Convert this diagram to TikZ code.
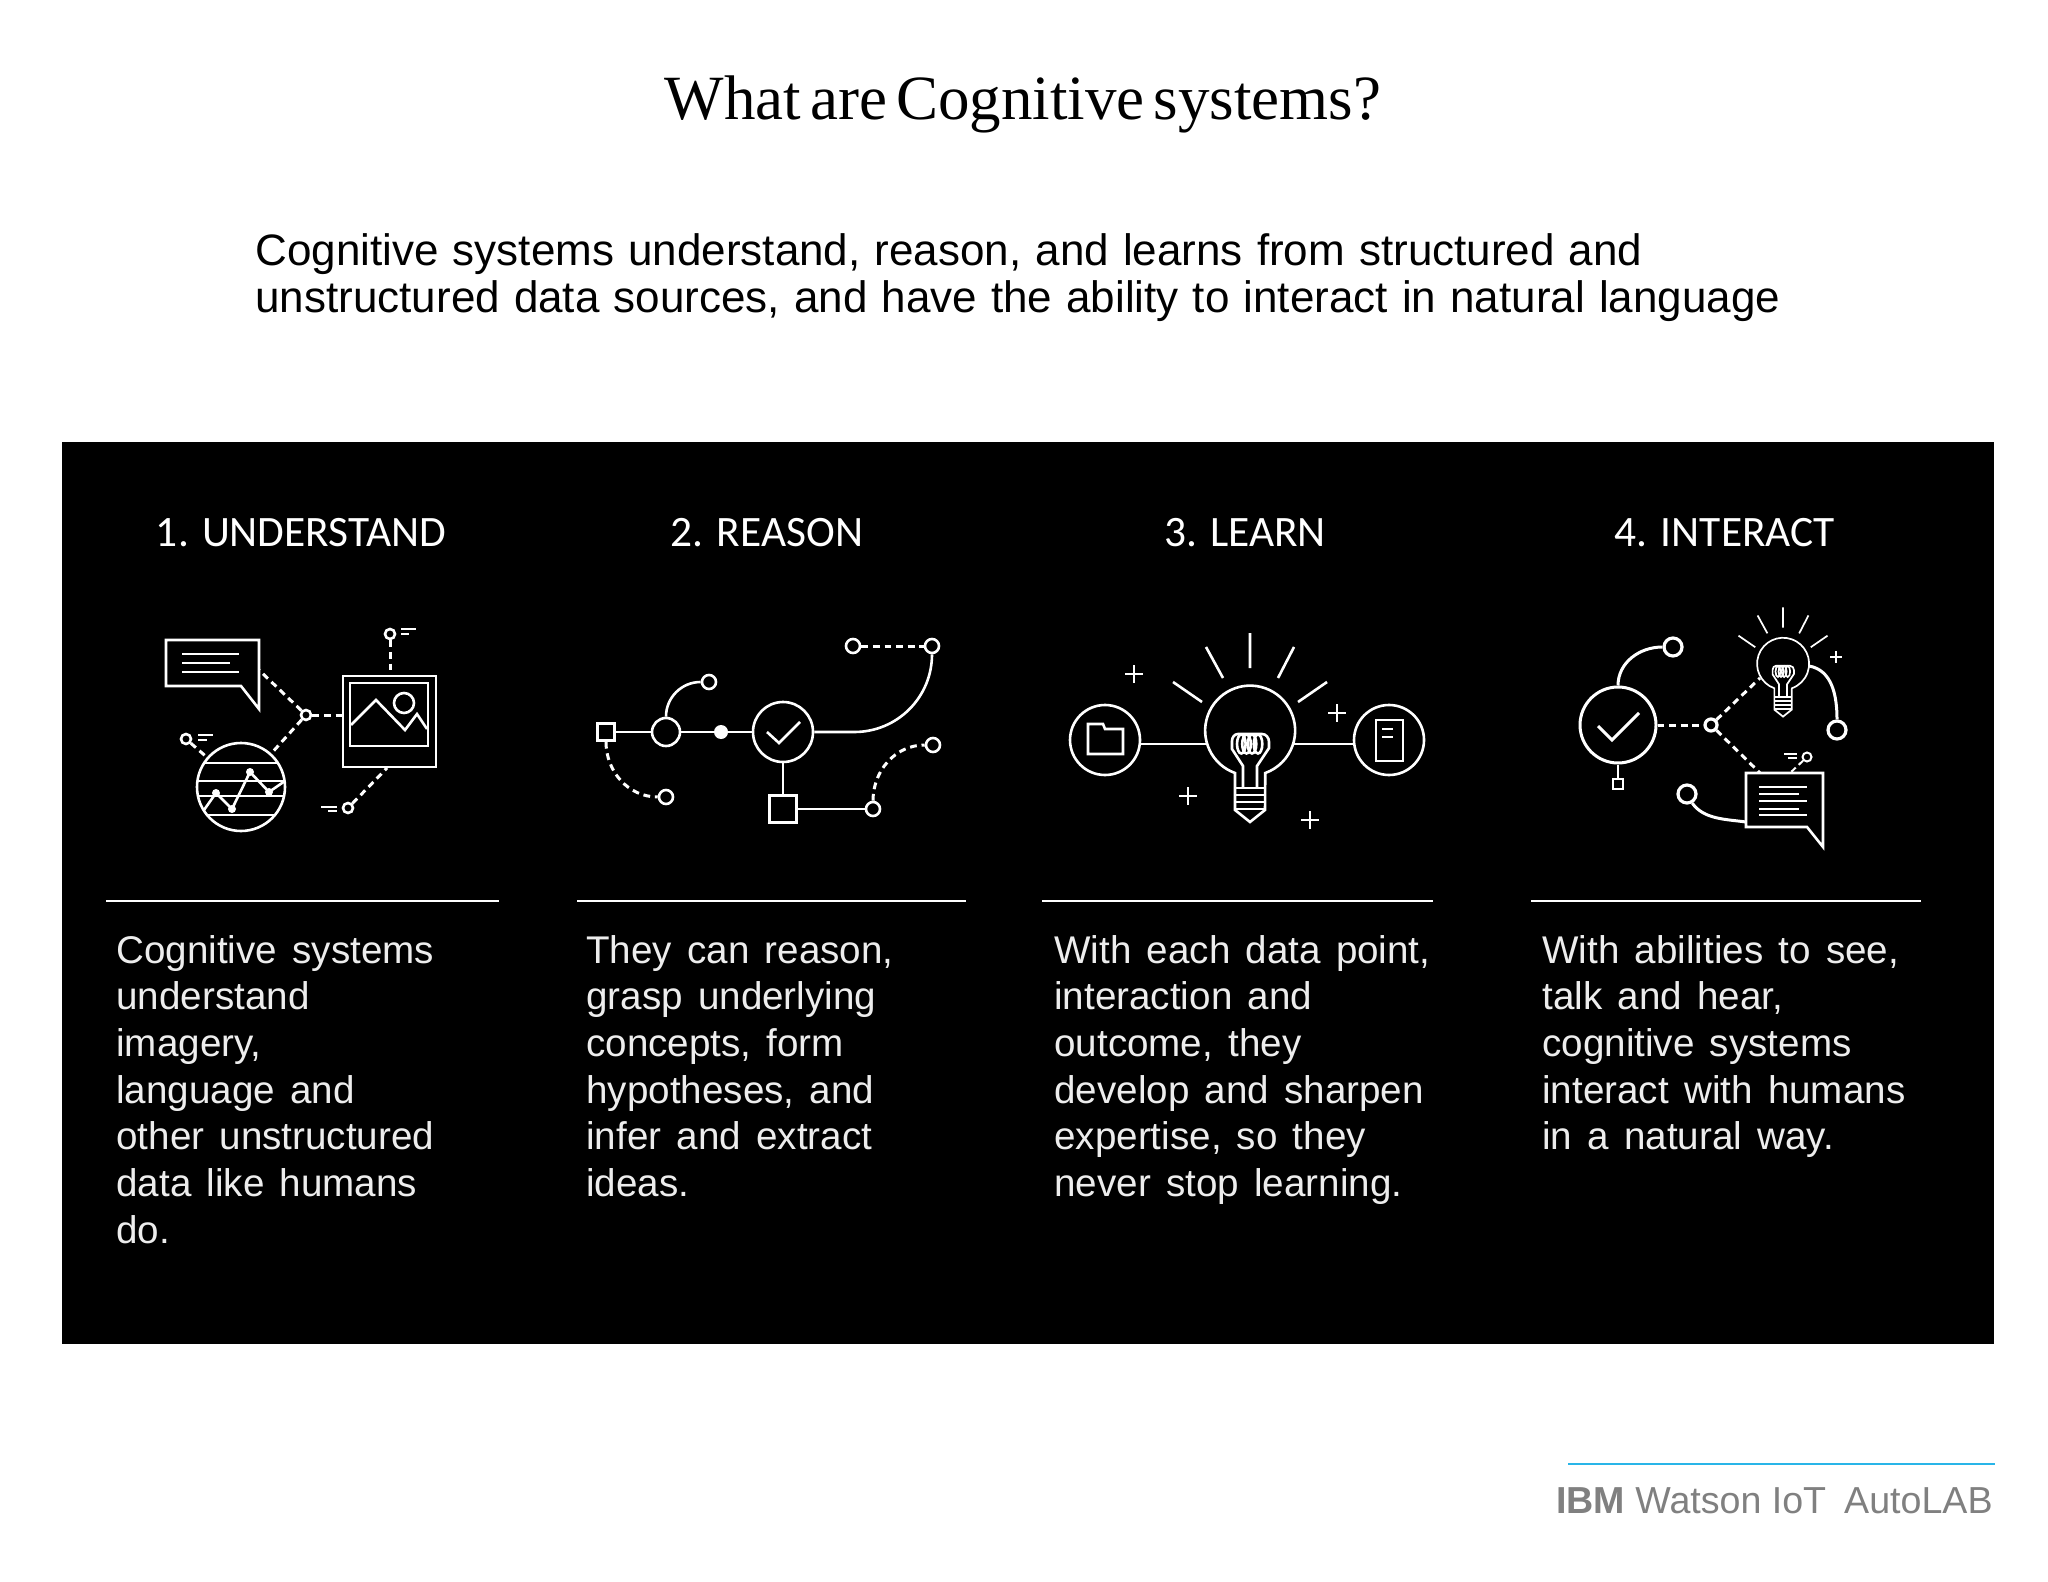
\documentclass[tikz,border=0pt]{standalone}
\usepackage{fontspec}
\setmainfont{Liberation Sans}
\newfontfamily\titlefont[WordSpace=0.57]{Liberation Serif}
\newfontfamily\headfont{Carlito}
\definecolor{footgray}{HTML}{808080}
\definecolor{footblue}{HTML}{29B5E8}
\definecolor{softwhite}{HTML}{EDEDED}
\protected\def\bodysel{\fontsize{19.3}{23.35}\selectfont\frenchspacing\spaceskip=7.6pt\relax}
\protected\def\subsel{\fontsize{22}{23.5}\selectfont\frenchspacing\spaceskip=7.05pt\relax}
\tikzset{
 icon/.style={draw=white,line width=1.3pt,line join=miter},
 thinicon/.style={draw=white,line width=.85pt},
 dashline/.style={icon,line width=1.5pt,dash pattern=on 3.4pt off 2.4pt},
 thindash/.style={thinicon,line width=1pt,dash pattern=on 3pt off 2pt},
 ring/.style={circle,icon,inner sep=0pt,minimum size=#1*1pt},
 dotnode/.style={circle,fill=white,inner sep=0pt,minimum size=#1*1pt},
 boxnode/.style={rectangle,icon,inner sep=0pt,minimum size=#1*.5pt},
 headtext/.style={text=white,anchor=base,inner sep=0pt,font=\headfont\fontsize{21.7}{24}\selectfont},
 bodytext/.style={text=softwhite,anchor=north west,inner sep=0pt,align=left,font=\bodysel},
 sep/.style={draw=white,line width=1.2pt},
}
\newcommand{\plusmark}[3]{\draw[icon,line width=#3] (#1-9,#2)--(#1+9,#2) (#1,#2-9)--(#1,#2+9);}
\newcommand{\bulbshape}{%
 \draw (-15,42) arc[start angle=109.65,end angle=430.35,radius=45]
   -- (15,79) -- (0,91) -- (-15,79) -- cycle;
 \draw (-15,57)--(15,57) (-15,64)--(15,64) (-15,71)--(15,71) (-15,78)--(15,78);
 \draw (-7,57) -- (-7,35) -- (-18,18) -- (-18,10) to[out=90,in=180] (-12,3) -- (12,3) to[out=0,in=90] (19,11) -- (19,17) -- (7,35) -- (7,57);
 \foreach \cx in {-8.7,-3.5,2,8} \draw (\cx,13) ellipse[x radius=4.3,y radius=9.5];
 \draw (0,-98)--(0,-63) (-44,-84)--(-27,-53) (44,-84)--(28,-53) (-77,-49)--(-48,-29) (77,-49)--(48,-29);
}
\begin{document}
\begin{tikzpicture}[x=.5pt,y=-.5pt]
\useasboundingbox (0,0) rectangle (2048,1582);
\fill[white] (0,0) rectangle (2048,1582);
\node[anchor=base,inner sep=0pt,font=\titlefont\fontsize{31.5}{34}\selectfont,text=black] (title) at (1023,120) {What are Cognitive systems?};
\node[anchor=north west,inner sep=0pt,align=left,font=\subsel,text=black] (subtitle) at (255,233) {\rule{0pt}{14pt}Cognitive systems understand, reason, and learns from structured and\\unstructured data sources, and have the ability to interact in natural language};
\fill[black] (62,442) rectangle (1994,1344);

\node[headtext] (h1) at (301,546) {1. UNDERSTAND};
\node[headtext] (h2) at (767,546) {2. REASON};
\node[headtext] (h3) at (1245,546) {3. LEARN};
\node[headtext] (h4) at (1725,546) {4. INTERACT};

\coordinate (s1a) at (106,900.7); \coordinate (s1b) at (499,900.7);
\coordinate (s2a) at (577,900.7); \coordinate (s2b) at (966,900.7);
\coordinate (s3a) at (1042,900.7); \coordinate (s3b) at (1433,900.7);
\coordinate (s4a) at (1531,900.7); \coordinate (s4b) at (1921,900.7);
\draw[sep] (s1a)--(s1b); \draw[sep] (s2a)--(s2b); \draw[sep] (s3a)--(s3b); \draw[sep] (s4a)--(s4b);

\node[bodytext] (b1) at (116,934.7) {\rule{0pt}{14pt}Cognitive systems\\understand\\imagery,\\language and\\other unstructured\\data like humans\\do.};
\node[bodytext] (b2) at (586,934.7) {\rule{0pt}{14pt}They can reason,\\grasp underlying\\concepts, form\\hypotheses, and\\infer and extract\\ideas.};
\node[bodytext] (b3) at (1054,934.7) {\rule{0pt}{14pt}With each data point,\\interaction and\\outcome, they\\develop and sharpen\\expertise, so they\\never stop learning.};
\node[bodytext] (b4) at (1542,934.7) {\rule{0pt}{14pt}With abilities to see,\\talk and hear,\\cognitive systems\\interact with humans\\in a natural way.};

% icon 1
\draw[icon] (166,640)--(259,640)--(259,709)--(241,686)--(166,686)--cycle;
\draw[icon,line width=1pt] (182,654)--(239,654) (182,663)--(230,663) (182,672)--(239,672);
\coordinate (bub1) at (259,670);
\node[ring=5] (hub1) at (306,715) {};
\node[rectangle,icon,inner sep=0pt,minimum width=46.5pt,minimum height=45.5pt] (img1) at (389.5,721.5) {};
\draw[icon] (350,683) rectangle (428,746);
\draw[icon] (351,725)--(376,700)--(405,730)--(417,714)--(427,729);
\node[ring=10] (sun1) at (404,703) {};
\node[ring=5] (pinA) at (390,634) {};
\draw[icon,line width=1pt] (401,629)--(416,629) (401,634)--(409,634);
\node[ring=5] (pinB) at (348,808) {};
\draw[icon,line width=1pt] (321,807)--(337,807) (328,811)--(337,811);
\node[ring=44] (globe) at (241,787) {};
\begin{scope}
 \clip (241,787) circle[radius=44];
 \draw[icon,line width=.8pt] (190,763)--(290,763) (190,781)--(290,781) (190,796)--(290,796) (190,815)--(290,815);
 \draw[icon] (204,810)--(216,793)--(232,809)--(250,772)--(269,792)--(285,781);
\end{scope}
\node[dotnode=4] (d1) at (216,793) {};
\node[dotnode=4] (d2) at (232,809) {};
\node[dotnode=4] (d3) at (250,772) {};
\node[dotnode=4] (d4) at (269,792) {};
\node[ring=5] (pinC) at (186,739) {};
\draw[icon,line width=1pt] (198,735)--(213,735) (198,740)--(207,740);
\draw[dashline] (hub1)--(bub1);
\draw[dashline] (hub1.east)--(hub1.east -| img1.west);
\draw[dashline] (hub1)--(globe);
\draw[dashline] (pinA)--(pinA |- img1.north);
\coordinate (imgb) at (387,768);
\draw[dashline] (pinB)--(imgb);
\draw[dashline] (pinC)--(globe);

% icon 2
\node[boxnode=17] (sq1) at (606,732) {};
\node[ring=14] (c1) at (666,732) {};
\node[dotnode=7] (dot2) at (721,732) {};
\node[ring=30] (chk) at (783,732) {};
\draw[icon] (767,732)--(779,743)--(800,722);
\node[ring=7] (c2) at (709,682) {};
\node[ring=7] (c3) at (932,646) {};
\node[ring=7] (c4) at (853,646) {};
\node[boxnode=27] (sq2) at (783,809) {};
\node[ring=7] (c5) at (873,809) {};
\node[ring=7] (c6) at (933,745) {};
\node[ring=7] (c7) at (666,797) {};
\draw[icon] (sq1)--(c1);
\draw[icon] (c1)--(dot2);
\draw[icon] (dot2)--(chk);
\draw[icon] (c1.north) to[out=90,in=180] (c2.west);
\draw[icon] (chk.east) -- ++(40,0) to[out=0,in=-90,looseness=1] (c3.south);
\draw[icon] (chk)--(sq2);
\draw[icon] (sq2)--(c5);
\draw[dashline] (c4)--(c3);
\draw[dashline] (c5.north) to[out=90,in=180] (c6.west);
\draw[dashline] (sq1.south) to[out=-90,in=180] (c7.west);

% icon 3
\node[ring=35] (folderc) at (1105,740) {};
\node[ring=35] (docc) at (1389,740) {};
\begin{scope}[shift={(1250,731)},icon]
 \bulbshape
\end{scope}
\coordinate (bulbL) at (1206,744); \coordinate (bulbR) at (1294,744);
\draw[icon] (folderc.east |- bulbL)--(bulbL);
\draw[icon] (bulbR)--(docc.west |- bulbR);
\draw[icon] (1088,724)--(1103,724)--(1105,729)--(1123,729)--(1123,754)--(1088,754)--cycle;
\draw[icon] (1376,720) rectangle (1403,761);
\draw[icon,line width=1pt] (1382,729)--(1393,729) (1382,737)--(1393,737);
\plusmark{1134}{674}{1.2pt}
\plusmark{1337}{713}{1.2pt}
\plusmark{1188}{796}{1.2pt}
\plusmark{1310}{820}{1.2pt}

% icon 4
\node[ring=38,line width=1.5pt] (chk4) at (1618,725) {};
\draw[icon,line width=1.5pt] (1598,726)--(1612,740)--(1639,713);
\node[ring=9,line width=1.6pt] (t4) at (1673,647) {};
\node[boxnode=10,line width=.8pt] (sq4) at (1618,784) {};
\node[ring=6,line width=1.6pt] (hub4) at (1711,725) {};
\node[ring=9,line width=1.6pt] (r4) at (1837,730) {};
\node[ring=9,line width=1.6pt] (l4) at (1687,794) {};
\node[ring=4.5,line width=1pt] (p4) at (1807,757) {};
\begin{scope}[shift={(1783,664)},scale=.578,thinicon]
 \bulbshape
\end{scope}
\draw[thinicon] (1830,657)--(1842,657) (1836,651)--(1836,663);
\draw[icon,line width=1.5pt] (chk4.north) to[out=90,in=180] (t4.west);
\draw[icon,line width=.8pt] (chk4.south)--(sq4.north);
\draw[dashline] (chk4.east)--(hub4.west);
\coordinate (bulb4) at (1760,678);
\draw[dashline] (hub4)--(bulb4);
\coordinate (bub4) at (1760,773);
\draw[dashline] (hub4)--(bub4);
\coordinate (bulb4r) at (1809,666);
\draw[icon,line width=1.5pt] (bulb4r) to[out=-10,in=90] (r4.north);
\draw[icon] (1746,773)--(1823,773)--(1823,847)--(1807,827)--(1746,827)--cycle;
\draw[icon,line width=.9pt] (1759,787)--(1807,787) (1759,794)--(1799,794) (1759,801)--(1807,801) (1759,809)--(1799,809) (1759,815)--(1807,815);
\draw[icon,line width=.9pt] (1784,754)--(1797,754) (1788,758)--(1797,758);
\coordinate (bub4p) at (1790,773);
\draw[thindash] (p4)--(bub4p);
\coordinate (bub4l) at (1746,822);
\draw[icon,line width=1.5pt] (l4.-60) to[out=-55,in=172,looseness=.9] (bub4l);

% footer
\coordinate (fa) at (1568,1464); \coordinate (fb) at (1995,1464);
\draw[draw=footblue,line width=1.15pt] (fa)--(fb);
\node[anchor=base east,inner sep=0pt,text=footgray,font=\fontsize{18.8}{22}\selectfont] (foot) at (1993,1513) {\textbf{IBM} Watson IoT\hspace{.2em} AutoLAB};
\end{tikzpicture}
\end{document}
